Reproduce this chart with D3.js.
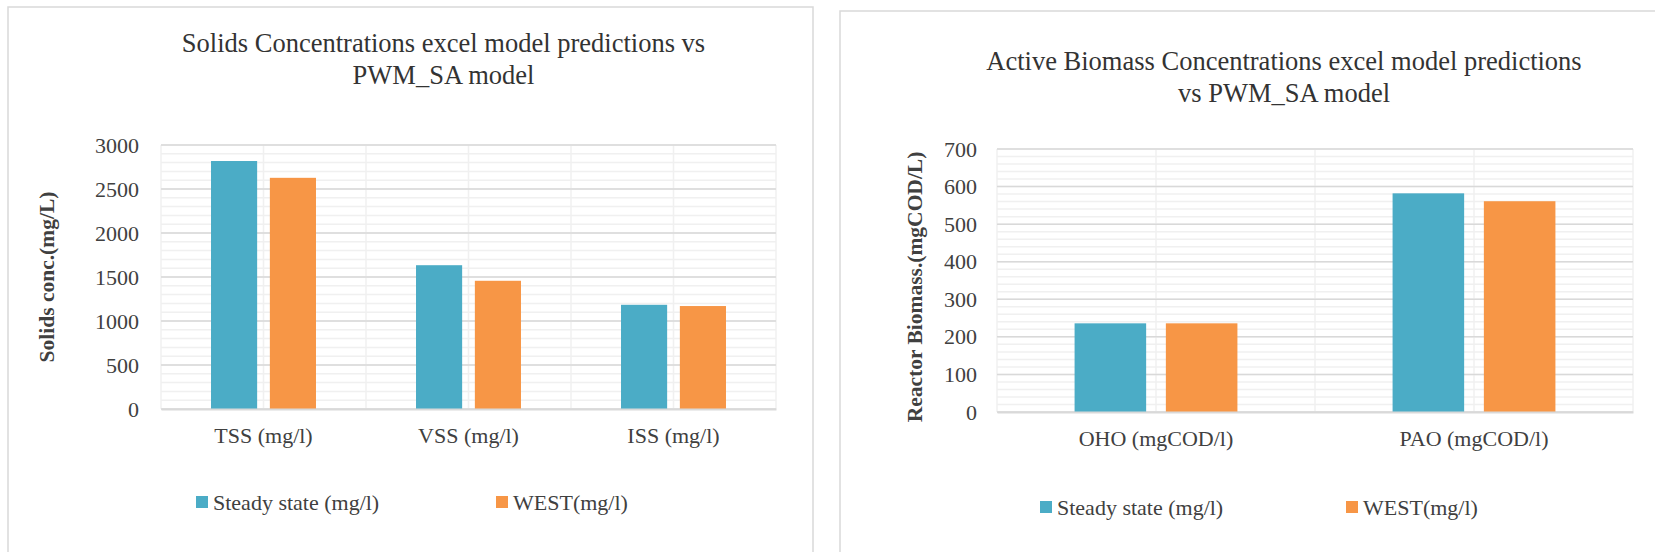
<!DOCTYPE html>
<html>
<head>
<meta charset="utf-8">
<script src="https://cdn.jsdelivr.net/npm/d3@7"></script>
<style>
  body { margin: 0; background: #fff; }
  svg { display: block; }
  text { font-family: "Liberation Serif", "Times New Roman", serif; }
</style>
</head>
<body>
<svg id="chart" width="1655" height="552"></svg>
<script>
// series shared by both charts
const seriesNames = ['Steady state (mg/l)', 'WEST(mg/l)'];
const seriesColors = ['#4bacc6', '#f79646'];

// left chart - solids
const solidsCategories = ['TSS (mg/l)', 'VSS (mg/l)', 'ISS (mg/l)'];
const solidsSteady = [2818, 1634, 1184];
const solidsWest = [2627, 1457, 1170];
const solidsTicks = [0, 500, 1000, 1500, 2000, 2500, 3000];

// right chart - active biomass
const biomassCategories = ['OHO (mgCOD/l)', 'PAO (mgCOD/l)'];
const biomassSteady = [236, 582];
const biomassWest = [236, 561];
const biomassTicks = [0, 100, 200, 300, 400, 500, 600, 700];

const svg = d3.select('#chart');

function drawPanel(opt) {
    const L = opt.layout;
    const g = svg.append('g');

    // chart frame (bottom runs off the page)
    g.append('path')
        .attr('d', `M${L.frameX},${L.frameY + 600}V${L.frameY}H${L.frameRight}V${L.frameY + 600}`)
        .attr('fill', 'none')
        .attr('stroke', '#d9d9d9')
        .attr('stroke-width', 1.5);

    const x0 = d3.scaleBand()
        .domain(opt.categories)
        .range([L.left, L.right])
        .padding(0);

    const x1 = d3.scaleBand()
        .domain(seriesNames)
        .range([0, x0.bandwidth()])
        .paddingInner(0.216)
        .paddingOuter(0.85);

    const yMax = opt.ticks[opt.ticks.length - 1];
    const y = d3.scaleLinear()
        .domain([0, yMax])
        .range([L.bottom, L.top]);

    // minor horizontal gridlines
    g.append('g')
        .selectAll('line')
        .data(d3.range(0, yMax + 1e-9, opt.minorStep))
        .enter().append('line')
        .attr('x1', L.left).attr('x2', L.right)
        .attr('y1', d => y(d)).attr('y2', d => y(d))
        .attr('stroke', '#f0f0f0')
        .attr('stroke-width', 1.5);

    // vertical gridlines: band edges and band centres
    const vLines = [];
    opt.categories.forEach(c => {
        vLines.push(x0(c));
        vLines.push(x0(c) + x0.bandwidth() / 2);
    });
    vLines.push(L.right);
    g.append('g')
        .selectAll('line')
        .data(vLines)
        .enter().append('line')
        .attr('x1', d => d).attr('x2', d => d)
        .attr('y1', L.top).attr('y2', L.bottom)
        .attr('stroke', '#f0f0f0')
        .attr('stroke-width', 1.5);

    // major gridlines
    g.append('g')
        .selectAll('line')
        .data(opt.ticks)
        .enter().append('line')
        .attr('x1', L.left).attr('x2', L.right)
        .attr('y1', d => y(d)).attr('y2', d => y(d))
        .attr('stroke', '#d9d9d9')
        .attr('stroke-width', 1.5);

    // bars
    const rows = opt.categories.map((c, i) => ({ cat: c, vals: [opt.steady[i], opt.west[i]] }));
    g.append('g')
        .selectAll('g')
        .data(rows)
        .enter().append('g')
        .attr('transform', d => `translate(${x0(d.cat)},0)`)
        .selectAll('rect')
        .data(d => d.vals.map((v, k) => ({ name: seriesNames[k], value: v, color: seriesColors[k] })))
        .enter().append('rect')
        .attr('x', d => x1(d.name))
        .attr('width', x1.bandwidth())
        .attr('y', d => y(d.value))
        .attr('height', d => y(0) - y(d.value))
        .attr('fill', d => d.color);

    // y axis labels
    const yAxis = g.append('g')
        .attr('transform', `translate(${L.left},0)`)
        .call(d3.axisLeft(y).tickValues(opt.ticks).tickFormat(d3.format('d')).tickSize(0).tickPadding(L.tickPad));
    yAxis.select('.domain').remove();
    yAxis.selectAll('text')
        .attr('font-family', '"Liberation Serif", "Times New Roman", serif')
        .style('font-size', '22px')
        .attr('fill', '#404040');

    // x axis: line plus category labels
    const xAxis = g.append('g')
        .attr('transform', `translate(0,${L.bottom})`)
        .call(d3.axisBottom(x0).tickSize(0).tickPadding(L.catPad));
    xAxis.select('.domain').attr('stroke', '#d9d9d9').attr('stroke-width', 2);
    xAxis.selectAll('text')
        .attr('font-family', '"Liberation Serif", "Times New Roman", serif')
        .style('font-size', '22px')
        .attr('fill', '#404040');

    // title
    const title = g.append('text')
        .attr('text-anchor', 'middle')
        .style('font-size', '26.5px')
        .attr('fill', '#333333');
    opt.titleLines.forEach((t, i) => {
        title.append('tspan')
            .attr('x', L.titleX)
            .attr('y', L.titleY + i * L.titleGap)
            .text(t);
    });

    // y axis title
    g.append('text')
        .attr('transform', `translate(${L.yTitleX},${L.yTitleY}) rotate(-90)`)
        .attr('text-anchor', 'middle')
        .attr('dominant-baseline', 'central')
        .style('font-size', '21.5px')
        .style('font-weight', 'bold')
        .attr('fill', '#404040')
        .text(opt.yTitle);

    // legend
    const leg = g.append('g')
        .selectAll('g')
        .data(seriesNames)
        .enter().append('g')
        .attr('transform', (d, i) => `translate(${L.legendX[i]},${L.legendY})`);
    leg.append('rect')
        .attr('x', 0).attr('y', -6)
        .attr('width', 12).attr('height', 12)
        .attr('fill', (d, i) => seriesColors[i]);
    leg.append('text')
        .attr('x', 17)
        .attr('y', 0)
        .attr('dominant-baseline', 'central')
        .style('font-size', '22px')
        .attr('fill', '#404040')
        .text(d => d);
}

drawPanel({
    categories: solidsCategories,
    steady: solidsSteady,
    west: solidsWest,
    ticks: solidsTicks,
    minorStep: 100,
    titleLines: ['Solids Concentrations excel model predictions vs', 'PWM_SA model'],
    yTitle: 'Solids conc.(mg/L)',
    layout: {
        frameX: 8, frameY: 7, frameRight: 813,
        left: 161, right: 776, top: 145, bottom: 409,
        tickPad: 22, catPad: 18,
        titleX: 443.5, titleY: 52, titleGap: 31.5,
        yTitleX: 47, yTitleY: 277,
        legendX: [196, 496], legendY: 502
    }
});

drawPanel({
    categories: biomassCategories,
    steady: biomassSteady,
    west: biomassWest,
    ticks: biomassTicks,
    minorStep: 20,
    titleLines: ['Active Biomass Concentrations excel model predictions', 'vs PWM_SA model'],
    yTitle: 'Reactor Biomass.(mgCOD/L)',
    layout: {
        frameX: 840, frameY: 11, frameRight: 1700,
        left: 997, right: 1633, top: 149, bottom: 412,
        tickPad: 20, catPad: 18,
        titleX: 1284, titleY: 70, titleGap: 31.5,
        yTitleX: 915, yTitleY: 287,
        legendX: [1040, 1346], legendY: 507
    }
});
</script>
</body>
</html>
